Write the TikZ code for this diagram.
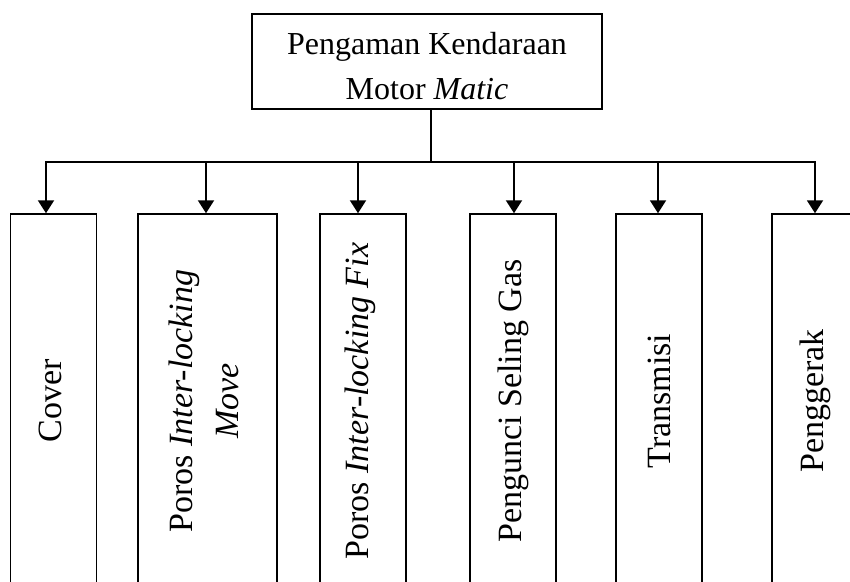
\documentclass[tikz,border=0pt]{standalone}
\usepackage{fontspec}
\setmainfont{Liberation Serif}
\usetikzlibrary{arrows.meta}

\tikzset{
  kotak/.style={draw, line width=1.5pt, inner sep=0pt, align=center},
  cabang/.style={kotak, rotate=90, minimum width=374pt, minimum height=86pt,
    font=\fontsize{34}{46}\selectfont},
  panah/.style={-{Triangle[width=16pt,length=13pt]}, line width=2pt}
}

\begin{document}
\begin{tikzpicture}[x=1pt, y=-1pt]
\useasboundingbox (0,0) rectangle (850,581);
\clip (0,0) rectangle (850,581);

\node[kotak, minimum width=350pt, minimum height=95pt,
  font=\fontsize{32}{45}\selectfont] (induk) at (427,61.5)
  {\rule{0pt}{32pt}Pengaman Kendaraan\\Motor \textit{Matic}};

\begin{scope}[every node/.style={cabang}]
	\node (cover) at (53.5,401) {\hspace*{0pt}Cover\rule[-6pt]{0pt}{6pt}};
	\node[minimum height=139pt] (movep) at (207.5,401) {Poros \textit{Inter-locking}\\\textit{Move}\rule[-7pt]{0pt}{7pt}};
	\node (fixp) at (363,401) {Poros \textit{Inter-locking Fix}\rule[-13pt]{0pt}{13pt}};
	\node (seling) at (513,401) {Pengunci Seling Gas};
	\node (trans) at (659,401) {Transmisi};
	\node (gerak) at (815,401) {Penggerak};
\end{scope}

\coordinate (hub) at (431,162);
\foreach \ax [count=\i] in {46,206,358,514,658,815}
	\coordinate (d\i) at (\ax,162);

\draw[line width=1.3pt] (hub |- induk.south) -- (hub);
\draw[line width=2pt, line cap=rect] (d1) -- (d6);

\begin{scope}[every edge/.style={draw=black,panah}]
	\foreach \nm [count=\i] in {cover,movep,fixp,seling,trans,gerak}
		\path (d\i) edge (d\i |- \nm.east);
\end{scope}
\end{tikzpicture}
\end{document}
